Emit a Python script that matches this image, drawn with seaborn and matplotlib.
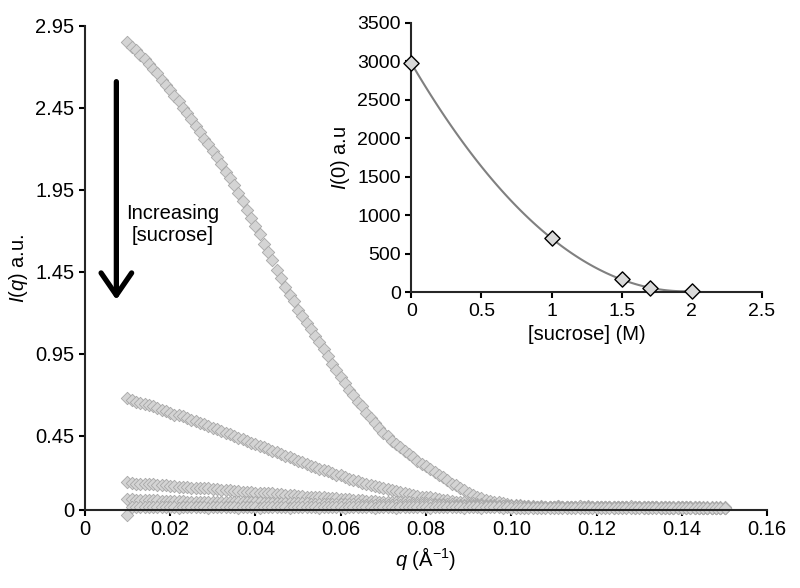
import numpy as np
import pandas as pd
import matplotlib
matplotlib.use("Agg")
import matplotlib.pyplot as plt
import seaborn as sns

# q grid (1/A)
q = [0.010, 0.011, 0.012, 0.013, 0.014, 0.015, 0.016, 0.017, 0.018, 0.019,
     0.020, 0.021, 0.022, 0.023, 0.024, 0.025, 0.026, 0.027, 0.028, 0.029,
     0.030, 0.031, 0.032, 0.033, 0.034, 0.035, 0.036, 0.037, 0.038, 0.039,
     0.040, 0.041, 0.042, 0.043, 0.044, 0.045, 0.046, 0.047, 0.048, 0.049,
     0.050, 0.051, 0.052, 0.053, 0.054, 0.055, 0.056, 0.057, 0.058, 0.059,
     0.060, 0.061, 0.062, 0.063, 0.064, 0.065, 0.066, 0.067, 0.068, 0.069,
     0.070, 0.071, 0.072, 0.073, 0.074, 0.075, 0.076, 0.077, 0.078, 0.079,
     0.080, 0.081, 0.082, 0.083, 0.084, 0.085, 0.086, 0.087, 0.088, 0.089,
     0.090, 0.091, 0.092, 0.093, 0.094, 0.095, 0.096, 0.097, 0.098, 0.099,
     0.100, 0.101, 0.102, 0.103, 0.104, 0.105, 0.106, 0.107, 0.108, 0.109,
     0.110, 0.111, 0.112, 0.113, 0.114, 0.115, 0.116, 0.117, 0.118, 0.119,
     0.120, 0.121, 0.122, 0.123, 0.124, 0.125, 0.126, 0.127, 0.128, 0.129,
     0.130, 0.131, 0.132, 0.133, 0.134, 0.135, 0.136, 0.137, 0.138, 0.139,
     0.140, 0.141, 0.142, 0.143, 0.144, 0.145, 0.146, 0.147, 0.148, 0.149,
     0.150]

# I(q) for each sucrose concentration (0, 1, 1.5, 1.7, 2 M)
I_0M = [2.85, 2.82, 2.80, 2.77, 2.75, 2.72, 2.69, 2.66, 2.62, 2.59,
        2.56, 2.52, 2.49, 2.45, 2.42, 2.38, 2.34, 2.30, 2.26, 2.23,
        2.19, 2.15, 2.11, 2.06, 2.02, 1.98, 1.93, 1.88, 1.83, 1.78,
        1.73, 1.68, 1.62, 1.57, 1.52, 1.46, 1.41, 1.36, 1.31, 1.27,
        1.22, 1.18, 1.14, 1.10, 1.06, 1.02, 0.98, 0.94, 0.89, 0.85,
        0.81, 0.77, 0.73, 0.70, 0.66, 0.63, 0.59, 0.56, 0.53, 0.50,
        0.47, 0.45, 0.42, 0.40, 0.38, 0.36, 0.34, 0.32, 0.30, 0.28,
        0.27, 0.25, 0.23, 0.21, 0.20, 0.18, 0.16, 0.15, 0.13, 0.12,
        0.10, 0.09, 0.08, 0.07, 0.06, 0.055, 0.05, 0.045, 0.04, 0.035,
        0.03, 0.03, 0.03, 0.025, 0.025, 0.025, 0.02, 0.02, 0.02, 0.02,
        0.02, 0.022, 0.02, 0.018, 0.02, 0.02, 0.022, 0.02, 0.018, 0.02,
        0.02, 0.02, 0.018, 0.02, 0.02, 0.015, 0.017, 0.015, 0.015, 0.013,
        0.015, 0.015, 0.017, 0.015, 0.015, 0.013, 0.015, 0.015, 0.016, 0.015,
        0.015, 0.014, 0.015, 0.01, 0.012, 0.01, 0.01, 0.011, 0.01, 0.01,
        0.01]
I_1M = [0.68, 0.67, 0.66, 0.65, 0.645, 0.64, 0.63, 0.62, 0.61, 0.60,
        0.59, 0.58, 0.575, 0.57, 0.56, 0.55, 0.54, 0.53, 0.52, 0.51,
        0.50, 0.49, 0.48, 0.47, 0.46, 0.45, 0.44, 0.43, 0.42, 0.41,
        0.40, 0.39, 0.38, 0.37, 0.36, 0.35, 0.34, 0.33, 0.32, 0.31,
        0.30, 0.29, 0.28, 0.27, 0.26, 0.25, 0.24, 0.235, 0.225, 0.215,
        0.21, 0.20, 0.19, 0.18, 0.175, 0.165, 0.16, 0.15, 0.145, 0.14,
        0.13, 0.125, 0.12, 0.115, 0.11, 0.10, 0.095, 0.09, 0.085, 0.08,
        0.08, 0.075, 0.07, 0.065, 0.06, 0.06, 0.055, 0.05, 0.05, 0.045,
        0.04, 0.04, 0.035, 0.035, 0.03, 0.03, 0.03, 0.025, 0.025, 0.025,
        0.02, 0.022, 0.02, 0.02, 0.018, 0.02, 0.02, 0.022, 0.02, 0.02,
        0.02, 0.02, 0.018, 0.02, 0.015, 0.015, 0.017, 0.015, 0.015, 0.015,
        0.015, 0.016, 0.015, 0.015, 0.013, 0.015, 0.015, 0.017, 0.015, 0.015,
        0.015, 0.015, 0.013, 0.015, 0.015, 0.01, 0.012, 0.01, 0.01, 0.011,
        0.01, 0.01, 0.012, 0.01, 0.01, 0.01, 0.011, 0.01, 0.01, 0.01,
        0.01]
I_15M = [0.17, 0.165, 0.16, 0.16, 0.16, 0.155, 0.155, 0.15, 0.15, 0.15,
         0.145, 0.145, 0.14, 0.14, 0.14, 0.135, 0.135, 0.13, 0.13, 0.13,
         0.125, 0.125, 0.12, 0.12, 0.12, 0.115, 0.115, 0.11, 0.11, 0.11,
         0.105, 0.105, 0.10, 0.10, 0.10, 0.095, 0.095, 0.09, 0.09, 0.09,
         0.085, 0.085, 0.08, 0.08, 0.08, 0.075, 0.075, 0.07, 0.07, 0.07,
         0.065, 0.065, 0.065, 0.06, 0.06, 0.06, 0.055, 0.055, 0.055, 0.05,
         0.05, 0.05, 0.05, 0.045, 0.045, 0.045, 0.045, 0.04, 0.04, 0.04,
         0.04, 0.04, 0.035, 0.035, 0.035, 0.035, 0.035, 0.03, 0.03, 0.03,
         0.03, 0.03, 0.03, 0.03, 0.025, 0.025, 0.025, 0.025, 0.025, 0.025,
         0.025, 0.025, 0.02, 0.02, 0.022, 0.02, 0.02, 0.018, 0.02, 0.02,
         0.02, 0.022, 0.02, 0.02, 0.018, 0.02, 0.02, 0.02, 0.022, 0.02,
         0.02, 0.02, 0.018, 0.02, 0.02, 0.015, 0.015, 0.017, 0.015, 0.015,
         0.015, 0.013, 0.015, 0.015, 0.016, 0.015, 0.015, 0.015, 0.013, 0.015,
         0.015, 0.015, 0.016, 0.015, 0.015, 0.01, 0.01, 0.012, 0.01, 0.01,
         0.01]
I_17M = [0.065, 0.065, 0.06, 0.06, 0.06, 0.06, 0.06, 0.06, 0.055, 0.055,
         0.055, 0.055, 0.055, 0.055, 0.05, 0.05, 0.05, 0.05, 0.05, 0.05,
         0.05, 0.05, 0.05, 0.045, 0.045, 0.045, 0.045, 0.045, 0.045, 0.045,
         0.045, 0.045, 0.04, 0.04, 0.04, 0.04, 0.04, 0.04, 0.04, 0.04,
         0.04, 0.04, 0.04, 0.035, 0.035, 0.035, 0.035, 0.035, 0.035, 0.035,
         0.035, 0.035, 0.035, 0.035, 0.035, 0.03, 0.03, 0.03, 0.03, 0.03,
         0.03, 0.03, 0.03, 0.03, 0.03, 0.03, 0.03, 0.03, 0.03, 0.03,
         0.03, 0.03, 0.03, 0.03, 0.03, 0.025, 0.025, 0.025, 0.025, 0.025,
         0.025, 0.025, 0.025, 0.025, 0.025, 0.025, 0.025, 0.025, 0.025, 0.025,
         0.025, 0.025, 0.025, 0.02, 0.02, 0.02, 0.02, 0.02, 0.02, 0.02,
         0.02, 0.02, 0.018, 0.02, 0.02, 0.02, 0.022, 0.02, 0.02, 0.02,
         0.02, 0.02, 0.02, 0.018, 0.02, 0.02, 0.02, 0.02, 0.022, 0.02,
         0.015, 0.015, 0.015, 0.017, 0.015, 0.015, 0.015, 0.013, 0.015, 0.015,
         0.015, 0.015, 0.015, 0.015, 0.016, 0.015, 0.015, 0.015, 0.014, 0.015,
         0.015]
I_2M = [-0.03, 0.02, 0.02, 0.02, 0.015, 0.02, 0.015, 0.015, 0.02, 0.015,
        0.015, 0.015, 0.012, 0.015, 0.015, 0.018, 0.015, 0.015, 0.015, 0.012,
        0.015, 0.015, 0.015, 0.018, 0.015, 0.015, 0.012, 0.015, 0.015, 0.015,
        0.015, 0.012, 0.015, 0.015, 0.018, 0.015, 0.015, 0.015, 0.012, 0.015,
        0.015, 0.015, 0.018, 0.015, 0.015, 0.012, 0.015, 0.015, 0.015, 0.015,
        0.015, 0.012, 0.015, 0.015, 0.015, 0.018, 0.015, 0.015, 0.012, 0.015,
        0.015, 0.015, 0.015, 0.012, 0.015, 0.015, 0.018, 0.015, 0.015, 0.015,
        0.015, 0.012, 0.015, 0.015, 0.015, 0.015, 0.018, 0.015, 0.015, 0.012,
        0.015, 0.015, 0.015, 0.012, 0.015, 0.015, 0.015, 0.015, 0.012, 0.015,
        0.01, 0.01, 0.012, 0.01, 0.01, 0.008, 0.01, 0.01, 0.012, 0.01,
        0.01, 0.01, 0.008, 0.01, 0.01, 0.012, 0.01, 0.01, 0.01, 0.008,
        0.01, 0.012, 0.01, 0.01, 0.01, 0.008, 0.01, 0.01, 0.012, 0.01,
        0.01, 0.01, 0.008, 0.01, 0.01, 0.012, 0.01, 0.01, 0.01, 0.008,
        0.01, 0.01, 0.012, 0.01, 0.01, 0.01, 0.008, 0.01, 0.01, 0.01,
        0.01]

# inset: forward scattering vs sucrose
sucrose = [0, 1, 1.5, 1.7, 2]
I0 = [2980, 700, 170, 55, 15]

xticks_main = [0, 0.02, 0.04, 0.06, 0.08, 0.10, 0.12, 0.14, 0.16]
xlabels_main = ["0", "0.02", "0.04", "0.06", "0.08", "0.10", "0.12", "0.14", "0.16"]
yticks_main = [0, 0.45, 0.95, 1.45, 1.95, 2.45, 2.95]
ylabels_main = ["0", "0.45", "0.95", "1.45", "1.95", "2.45", "2.95"]
xticks_in = [0, 0.5, 1, 1.5, 2, 2.5]
xlabels_in = ["0", "0.5", "1", "1.5", "2", "2.5"]
yticks_in = [0, 500, 1000, 1500, 2000, 2500, 3000, 3500]

df = pd.concat([
    pd.DataFrame({"q": q, "I": I_0M, "c": "0 M"}),
    pd.DataFrame({"q": q, "I": I_1M, "c": "1 M"}),
    pd.DataFrame({"q": q, "I": I_15M, "c": "1.5 M"}),
    pd.DataFrame({"q": q, "I": I_17M, "c": "1.7 M"}),
    pd.DataFrame({"q": q, "I": I_2M, "c": "2 M"}),
])

sns.set_style("ticks")
plt.rcParams['font.family'] = ['Liberation Sans', 'DejaVu Sans']
plt.rcParams['mathtext.fontset'] = 'custom'
plt.rcParams['mathtext.rm'] = 'Liberation Sans'
plt.rcParams['mathtext.it'] = 'Liberation Sans:italic'
plt.rcParams['text.color'] = 'black'
plt.rcParams['axes.labelcolor'] = 'black'
FS = 14.5

fig = plt.figure(figsize=(8, 5.88), dpi=100)
ax = fig.add_axes([0.106, 0.133, 0.853, 0.823])
sns.scatterplot(data=df, x="q", y="I", marker="D", s=40, color="#d4d4d4",
                edgecolor="#a8a8a8", linewidth=0.6, clip_on=False, ax=ax)
ax.set_xlim(0, 0.16)
ax.set_ylim(0, 2.95)
ax.set_xticks(xticks_main, xlabels_main)
ax.set_yticks(yticks_main, ylabels_main)
ax.set_xlabel("$q$ (Å$^{-1}$)", fontsize=FS)
ax.set_ylabel("$I$($q$) a.u.", fontsize=FS)
sns.despine(ax=ax)
for sp in ["left", "bottom"]:
    ax.spines[sp].set_linewidth(1.5)
ax.tick_params(direction="out", length=4, width=1.5, labelsize=FS, colors="black")

ax.annotate("", xy=(0.0074, 1.28), xytext=(0.0074, 2.61),
            arrowprops=dict(arrowstyle="->, head_length=0.8, head_width=0.55",
                            lw=3.8, color="black", shrinkA=0, shrinkB=0,
                            mutation_scale=20))
ax.text(0.0205, 1.74, "Increasing\n[sucrose]", ha="center", va="center",
        fontsize=FS, linespacing=1.2)

# inset
axi = fig.add_axes([0.514, 0.503, 0.4385, 0.458])
sns.regplot(x=sucrose, y=I0, order=3, ci=None, scatter=False, ax=axi,
            line_kws=dict(color="#808080", lw=1.5))
sns.scatterplot(x=sucrose, y=I0, marker="D", s=60, color="#d9d9d9",
                edgecolor="black", linewidth=1.0, clip_on=False, zorder=3, ax=axi)
axi.set_xlim(0, 2.5)
axi.set_ylim(0, 3500)
axi.set_xticks(xticks_in, xlabels_in)
axi.set_yticks(yticks_in)
axi.set_xlabel("[sucrose] (M)", fontsize=FS)
axi.set_ylabel("$I$(0) a.u", fontsize=FS)
sns.despine(ax=axi)
for sp in ["left", "bottom"]:
    axi.spines[sp].set_linewidth(1.5)
axi.tick_params(direction="out", length=4, width=1.5, labelsize=FS - 0.5, colors="black")

fig.savefig("out.png", dpi=100)
